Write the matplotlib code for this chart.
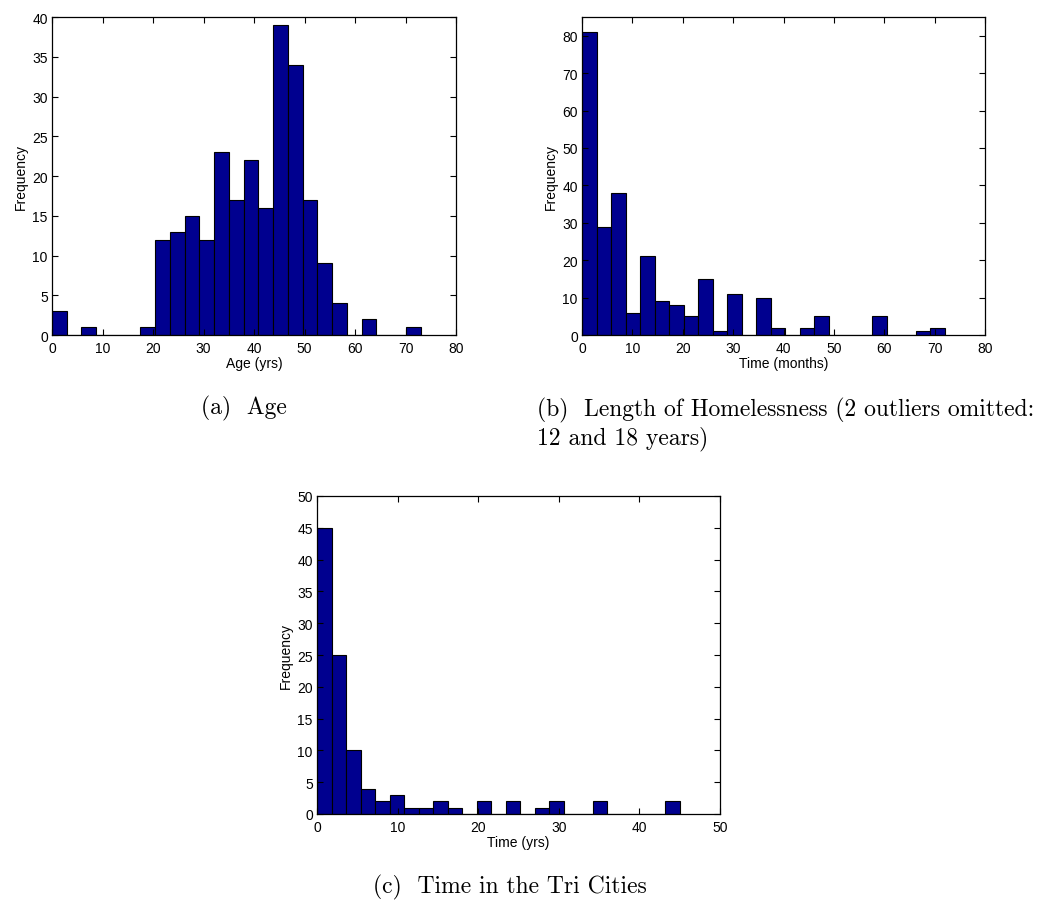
import matplotlib
matplotlib.use("Agg")
import matplotlib.pyplot as plt
import numpy as np

# bin counts (25 equal-width bins each)
age_counts = [3, 0, 1, 0, 0, 0, 1, 12, 13, 15, 12, 23, 17, 22, 16,
              39, 34, 17, 9, 4, 0, 2, 0, 0, 1]
age_range = (0, 73)

homeless_counts = [81, 29, 38, 6, 21, 9, 8, 5, 15, 1, 11, 0, 10, 2, 0,
                   2, 5, 0, 0, 0, 5, 0, 0, 1, 2]
homeless_range = (0, 72)

tri_counts = [45, 25, 10, 4, 2, 3, 1, 1, 2, 1, 0, 2, 0, 2, 0,
              1, 2, 0, 0, 2, 0, 0, 0, 0, 2]
tri_range = (0, 45)

BAR = "#00008F"
TICK_FONT = "Liberation Sans"
CAP_FONT = "cmr10"
CAP_SIZE = 17

W, H = 1046, 904
fig = plt.figure(figsize=(W / 100, H / 100), dpi=100)
fig.patch.set_facecolor("white")


def px_axes(left, top, right, bottom):
    return fig.add_axes([left / W, 1 - bottom / H, (right - left) / W, (bottom - top) / H])


def draw_hist(ax, counts, rng, xlim, xticks, ylim, yticks, xlabel):
    edges = np.linspace(rng[0], rng[1], len(counts) + 1)
    ax.bar(edges[:-1], counts, width=np.diff(edges), align="edge",
           color=BAR, edgecolor="black", linewidth=0.8)
    ax.set_xlim(*xlim)
    ax.set_ylim(*ylim)
    ax.set_xticks(xticks)
    ax.set_yticks(yticks)
    ax.tick_params(direction="in", top=True, right=True, length=4, width=0.8,
                   labelsize=10)
    ax.tick_params(axis="x", pad=4)
    ax.tick_params(axis="y", pad=3)
    for lab in ax.get_xticklabels() + ax.get_yticklabels():
        lab.set_fontfamily(TICK_FONT)
    for s in ax.spines.values():
        s.set_linewidth(0.9)
    ax.set_xlabel(xlabel, fontsize=10, fontfamily=TICK_FONT, labelpad=1)
    ax.set_ylabel("Frequency", fontsize=10, fontfamily=TICK_FONT, labelpad=3)


ax1 = px_axes(52, 18, 456, 336)
draw_hist(ax1, age_counts, age_range, (0, 80), range(0, 81, 10),
          (0, 40), range(0, 41, 5), "Age (yrs)")

ax2 = px_axes(582, 18, 985, 336)
draw_hist(ax2, homeless_counts, homeless_range, (0, 80), range(0, 81, 10),
          (0, 85), range(0, 81, 10), "Time (months)")

ax3 = px_axes(317, 497, 720, 815)
draw_hist(ax3, tri_counts, tri_range, (0, 50), range(0, 51, 10),
          (0, 50), range(0, 51, 5), "Time (yrs)")

# captions
fig.text(244 / W, 1 - 408 / H, "(a)  Age", fontsize=CAP_SIZE, fontfamily=CAP_FONT,
         ha="center", va="center")
fig.text(537 / W, 1 - 410 / H, "(b)  Length of Homelessness (2 outliers omitted:",
         fontsize=CAP_SIZE, fontfamily=CAP_FONT, ha="left", va="center")
fig.text(537 / W, 1 - 439 / H, "12 and 18 years)", fontsize=CAP_SIZE,
         fontfamily=CAP_FONT, ha="left", va="center")
fig.text(510 / W, 1 - 887 / H, "(c)  Time in the Tri Cities", fontsize=CAP_SIZE,
         fontfamily=CAP_FONT, ha="center", va="center")

fig.savefig("out.png", dpi=100, facecolor="white")
